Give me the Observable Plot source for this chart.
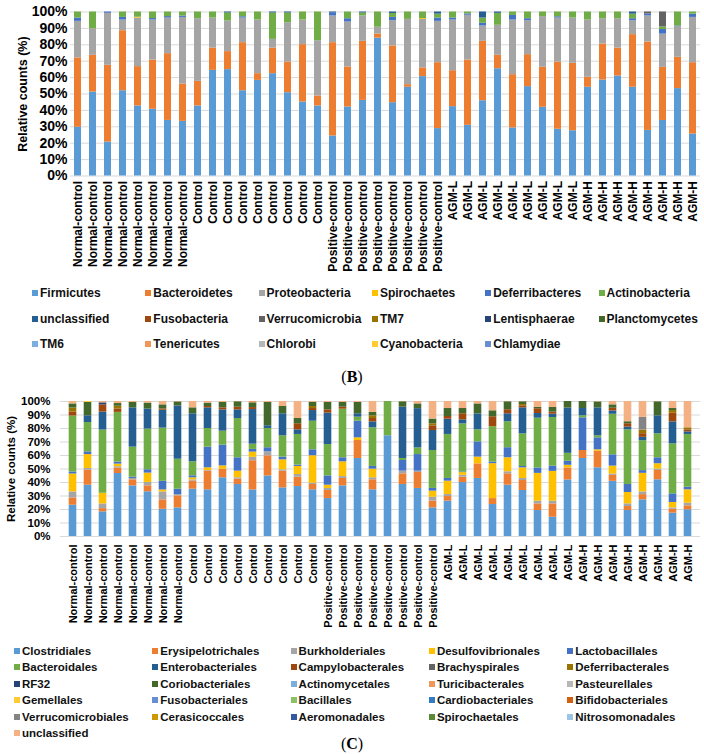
<!DOCTYPE html>
<html><head><meta charset="utf-8">
<script src="https://cdn.jsdelivr.net/npm/d3@7"></script>
<script src="https://cdn.jsdelivr.net/npm/@observablehq/plot@0.6"></script>
<style>
body{margin:0;background:#fff;font-family:Arial,"Liberation Sans",sans-serif;color:#000;}
#root{position:relative;width:704px;height:754px;overflow:hidden;background:#fff;}
#root svg text{font-weight:bold;}
.chart{position:absolute;left:0;}
.leg{position:absolute;white-space:nowrap;line-height:14px;height:14px;color:#111;}
.sw{position:absolute;width:6px;height:6px;top:4px;left:0;}
.lt{position:absolute;left:8px;top:0;}
.cap{position:absolute;width:704px;left:0;text-align:center;font-family:"Liberation Serif","Times New Roman",serif;font-size:16px;}
</style></head><body><div id="root"></div>
<script>
// ---------- Panel B (phyla) ----------
const groupNamesB = ["Normal-control", "Control", "Positive-control", "AGM-L", "AGM-H"];
const groupSizes = [8, 9, 8, 9, 8];

const firmicutes = [29.7,51.2,20.7,52,42.7,40.7,33.9,33.3, 42.7,64.4,65,52,58.3,62.4,50.8,45.1,42.7, 24.4,42.1,46.1,84.1,44.7,54.1,60.6,28.9, 42.3,30.9,45.9,65.4,29.3,54.5,41.9,28.5,27.6, 54.1,58.5,61,54.1,27.8,33.9,53.3,25.6];
const bacteroidetes = [42.3,22.4,46.8,36.6,24,30,40.7,22.8, 15,13.6,11,29.3,4.1,15.6,18.7,35,6.1, 56.9,24.4,36,2.5,34.6,1.6,5.3,40.2, 21.9,39.8,36.2,8.2,32.5,19.5,24.4,41,41.1, 6.1,22,17,32.1,53.9,32.4,19.1,43.5];
const proteobacteria = [22.3,16.2,31.7,6.5,29.6,24.4,21.7,40.6, 38.2,18.3,18.7,15,32.7,5.3,24,15,33.7, 16.3,27.4,15.5,4.1,15.4,39.8,29.6,25.2, 30.9,27.3,9.4,18.3,33.3,20.7,30.9,26.8,27.6, 34.9,15.4,17.9,8.5,15.9,20.3,18.7,27.6];
const spirochaetes = [0,0,0,0,0.5,0,0,0, 0,0,0,0,0,0,0,0,0, 0,0,0,0,0,0,0.5,0, 0,0,0,0,0,0,0,0,0, 0,0,0,0,0,0,0,0];
const deferribacteres = [2,0,0.8,1.6,0,0.9,0.9,0.8, 0,0,0,0.8,0,0,0,0,0, 1.8,2,0,0,2,0,0,2, 1.2,0.8,1.6,0,2.8,1.2,0,0.8,0, 0,0,0,1.2,1.2,2.8,0.4,2];
const actinobacteria = [3.7,10.2,0,3.3,3.2,4,2.8,2.5, 4.1,3.7,4.9,2.9,4.9,16.1,5.9,4.9,17.5, 0,4.1,1.8,9.3,2.4,4.5,4,2.4, 3.7,1.2,3.2,7.3,2.1,4.1,2.8,2.9,3.7, 4.9,4.1,4.1,2.8,0,1.6,8.5,1.3];
const unclassifiedB = [0,0,0,0,0,0,0,0, 0,0,0.6,0,0,0.6,0.6,0,0, 0.6,0,0.6,0,0.9,0,0,1.3, 0,0,3.7,0.8,0,0,0,0,0, 0,0,0,1.3,0,0,0,0];
const verrucomicrobia = [0,0,0,0,0,0,0,0, 0,0,0,0,0,0,0,0,0, 0,0,0,0,0,0,0,0, 0,0,0,0,0,0,0,0,0, 0,0,0,0,1.2,9.1,0,0];

const namesB = ["Firmicutes","Bacteroidetes","Proteobacteria","Spirochaetes","Deferribacteres","Actinobacteria",
  "unclassified","Fusobacteria","Verrucomicrobia","TM7","Lentisphaerae","Planctomycetes",
  "TM6","Tenericutes","Chlorobi","Cyanobacteria","Chlamydiae"];
const colorsB = ["#5B9BD5","#ED7D31","#A5A5A5","#FFC000","#4472C4","#70AD47",
  "#255E91","#9E480E","#636363","#997300","#264478","#43682B",
  "#7CAFDD","#F1975A","#B7B7B7","#FFCD33","#698ED0"];

// ---------- Panel C (orders) ----------
const clostridiales = [23.2,38,18.3,46.4,37.5,33.1,20.2,21.2, 35.1,34.6,43.5,38.5,34.6,44.9,36,37,34.6, 28.1,37.5,57.8,34.6,74.6,38.5,35.6,21.2, 26.2,40,43,23.7,38,34.1,19.3,14.3,42, 57.8,50.9,41,19.3,27.2,42,17.3,19.8];
const erysipelotrichales = [5.4,11.1,2.4,4,4.5,4.4,7,8.9, 5.9,13.8,6.4,4,21.7,14.9,12.4,7,3.9, 6,5.5,13.3,7.4,0,7.9,11.8,5, 3.4,4,10.8,4.4,8.4,7.4,4.9,9.9,8.9, 5.9,12.3,4.4,2.9,3.9,6.9,2.9,2.9];
const burkholderiales = [4.5,1.3,3.5,1,1,2.5,5.9,1, 1,0.5,0,1,2.5,3,1,1.9,1, 1.5,1.4,0,1.5,0,2,1,2.9, 1.5,1.4,0,0,1.5,1.5,2,2,0, 0,0,1,2,2,1,1,2];
const desulfovibrionales = [13.3,10.3,7.9,1.9,0,6.9,1.5,0, 1.5,2,2.4,4.9,3.9,0,7.4,6,20.3, 2.4,10.9,2,6.4,0,0,0,4.5, 9.9,2,5,25.9,10.4,7.9,20.7,22.2,2, 0,1,5.9,8.4,13.8,4,4,9.9];
const lactobacillales = [1.5,2,0,1.5,1,2.5,6.4,4, 1.5,15.3,15.4,9.9,2,3,2,1,4.4, 6.9,3,12.3,2,0,7.9,12.3,2, 2,0.5,11.3,1.2,7.4,1,4,3.9,3, 24.2,8.9,8.4,5.9,2,4.4,6.4,1.9];
const bacteroidales = [41.5,21.7,46.9,36.6,22.2,30.1,39.5,22.2, 10.4,13.8,10.3,29.1,3.9,14.3,15.8,22.7,21.2, 23.2,36,3,28.6,25.4,1.5,4.9,28.1, 32.6,35.6,8.9,26.2,19.2,24.2,37,36.1,5.9, 1.5,1.5,30.1,40.5,22.2,17.8,37,39.1];
const enterobacteriales = [0,5,13.3,0,29.1,14.8,13.3,39.5, 35.6,15.3,15.8,6.4,25.7,2,16.3,3.4,7.9, 23.3,0,2.5,4.4,0,38,29.1,14.8, 11.3,3,11.8,0,5.9,19.3,3.5,2.5,33.6, 5.4,20.7,2.5,2,2.5,13.3,16.3,1.9];
const campylobacterales = [3,0,5.4,2.5,0,0,1,0, 0,1,1.5,2,1.5,0,0,4.5,1.5, 2.4,1.5,0,2.5,0,0,0,3.5, 2,4.5,0,7.4,3,1.5,3.5,1.5,0, 0,0,2,2.5,2.7,0,6.4,1.5];
const deferribacterales = [3,0,0,2,0,0,0,0, 0,0,0,0,0,0,0,0,1.5, 0,0,0,2,0,0,0,1.5, 0,0,0,0,0,1,0,0,0, 0,0,0,0,2.7,0,2,1.5];
const rf32 = [0,0,1.5,0,0,0,0,0, 0,0,0,0,0,0,0,0,0, 0,0,0,0,0,0,0,0, 0,0,0,0,0,0,0,0,0, 0,0,0,0,0,0,0,0];
const coriobacteriales = [3,9.9,0,2,4,4.4,3,3, 4.4,2.5,4,4,3.5,17.3,5.4,3.9,3, 5.5,3.5,8.4,2.5,0,4,3.5,3.5, 5.9,3.9,7.4,4.4,5.9,2,1,3.5,4.9, 5.2,4.4,2.5,1.5,0,10.4,1.5,0];
const turicibacterales = [0,0,0,0,0,0,0,0, 0,0,0,0,1,0,0,0,0, 0,0,0,0,0,0,0,0, 0,0,0,0,0,0,0,0,0, 0,0,0,0,0,0,0,0];
const gemellales = [0,0.7,0,0,0,0,0,0, 0,0,0,0,0,0,0,0,0, 0,0,0,0,0,0,0,0, 0,0,0,0,0,0,0,0,0, 0,0,0,0,0,0,0,0];
const verrucomicrobiales = [0,0,0,0,0,0,0,0, 0,0,0,0,0,0,0,0,0, 0,0,0,0,0,0,0,0, 0,0,0,0,0,0,0,0,0, 0,0,0,0,9.4,0,0,0];
const unclassifiedC = [1.8,0,1,1.5,0.7,1.2,2.5,0.3, 4.7,1.2,0.7,0.2,0,0.7,3.7,12.6,0.7, 0.7,0.7,0.7,8.1,0,0.2,1.8,13, 5.2,5.2,1.8,6.9,0.2,0.2,4.4,4.4,0, 0,0.3,2.5,15,11.8,0.2,5.2,19.5];

const namesC = ["Clostridiales","Erysipelotrichales","Burkholderiales","Desulfovibrionales","Lactobacillales",
  "Bacteroidales","Enterobacteriales","Campylobacterales","Brachyspirales","Deferribacterales",
  "RF32","Coriobacteriales","Actinomycetales","Turicibacterales","Pasteurellales",
  "Gemellales","Fusobacteriales","Bacillales","Cardiobacteriales","Bifidobacteriales",
  "Verrucomicrobiales","Cerasicoccales","Aeromonadales","Spirochaetales","Nitrosomonadales",
  "unclassified"];
const colorsC = ["#5B9BD5","#ED7D31","#A5A5A5","#FFC000","#4472C4",
  "#70AD47","#255E91","#9E480E","#636363","#997300",
  "#264478","#43682B","#7CAFDD","#F1975A","#B7B7B7",
  "#FFCD33","#698ED0","#8CC168","#327DC2","#D26012",
  "#848484","#CC9A00","#335AA1","#5A8A39","#9DC3E6",
  "#F4B183"];

// ---------- build tables ----------
const sampleLabels = groupNamesB.flatMap((g, k) => Array.from({length: groupSizes[k]}, () => g));
const nBars = sampleLabels.length;

const seriesB = [["Firmicutes", firmicutes],["Bacteroidetes", bacteroidetes],["Proteobacteria", proteobacteria],
  ["Spirochaetes", spirochaetes],["Deferribacteres", deferribacteres],["Actinobacteria", actinobacteria],
  ["unclassified", unclassifiedB],["Verrucomicrobia", verrucomicrobia]];
const seriesC = [["Clostridiales", clostridiales],["Erysipelotrichales", erysipelotrichales],["Burkholderiales", burkholderiales],
  ["Desulfovibrionales", desulfovibrionales],["Lactobacillales", lactobacillales],["Bacteroidales", bacteroidales],
  ["Enterobacteriales", enterobacteriales],["Campylobacterales", campylobacterales],["Deferribacterales", deferribacterales],
  ["RF32", rf32],["Coriobacteriales", coriobacteriales],["Turicibacterales", turicibacterales],["Gemellales", gemellales],
  ["Verrucomicrobiales", verrucomicrobiales],["unclassified", unclassifiedC]];

function toRows(series) {
  const rows = [];
  series.forEach(([name, vals]) => vals.forEach((v, i) => { if (v > 0) rows.push({i, series: name, value: v}); }));
  return rows;
}
const dataB = toRows(seriesB);
const dataC = toRows(seriesC);

const root = document.getElementById("root");
const font = "Arial, 'Liberation Sans', sans-serif";

function makeChart(o) {
  return Plot.plot({
    width: 704, height: o.height,
    marginTop: o.mt, marginBottom: o.mb, marginLeft: o.ml, marginRight: 4,
    style: {fontFamily: font, background: "#fff", color: "#000", overflow: "visible"},
    x: {type: "band", domain: d3.range(nBars), padding: 0, axis: null},
    y: {domain: [0, 1], axis: null},
    color: {domain: o.names, range: o.colors},
    marks: [
      Plot.gridY({ticks: 10, stroke: "#D9D9D9", strokeOpacity: 1, strokeWidth: 1}),
      Plot.barY(o.data, Plot.stackY({offset: "normalize", order: o.names},
        {x: "i", y: "value", fill: "series", insetLeft: o.inset, insetRight: o.inset})),
      Plot.axisY({ticks: 10, tickFormat: d3.format(".0%"), tickSize: 0, tickPadding: o.ytp,
        fontSize: o.yfs, label: null, fill: "#000"}),
      Plot.axisX({tickRotate: -90, tickSize: 0, tickPadding: o.xtp, fontSize: o.xfs,
        tickFormat: i => sampleLabels[i], label: null, fill: "#000"}),
      Plot.text(["Relative counts (%)"], {frameAnchor: "left", textAnchor: "middle", lineAnchor: "middle",
        dx: o.tdx, rotate: -90, fontSize: o.tfs, fill: "#000"})
    ]
  });
}

const chartB = makeChart({height: 290, mt: 11.5, mb: 114.5, ml: 70, inset: 4,
  data: dataB, names: namesB, colors: colorsB, ytp: 3, yfs: 14, xtp: 5, xfs: 12, tdx: -48, tfs: 12.5});
chartB.classList.add("chart"); chartB.style.top = "0px";
root.appendChild(chartB);

const chartC = makeChart({height: 250, mt: 11, mb: 104, ml: 60, inset: 3.7,
  data: dataC, names: namesC, colors: colorsC, ytp: 10, yfs: 11.5, xtp: 8, xfs: 11, tdx: -49, tfs: 11.5});
chartC.classList.add("chart"); chartC.style.top = "390px";
root.appendChild(chartC);

// ---------- legends ----------
function legend(names, colors, cols, x0, dx, y0, dy, fs, fw) {
  names.forEach((n, k) => {
    const c = k % cols, r = Math.floor(k / cols);
    const d = document.createElement("div");
    d.className = "leg";
    d.style.left = (x0 + c * dx) + "px";
    d.style.top = (y0 + r * dy - 7) + "px";
    d.style.fontSize = fs + "px";
    d.style.fontWeight = fw;
    const s = document.createElement("span"); s.className = "sw"; s.style.background = colors[k];
    const t = document.createElement("span"); t.className = "lt"; t.textContent = n;
    d.appendChild(s); d.appendChild(t);
    root.appendChild(d);
  });
}
legend(namesB, colorsB, 6, 32, 113.3, 293, 25.5, 12, "bold");
legend(namesC, colorsC, 5, 14, 138.3, 651, 16.4, 11.5, "bold");

function caption(letter, top) {
  const d = document.createElement("div");
  d.className = "cap"; d.style.top = top + "px";
  d.innerHTML = "(<b>" + letter + "</b>)";
  root.appendChild(d);
}
caption("B", 368);
caption("C", 735);
</script></body></html>
